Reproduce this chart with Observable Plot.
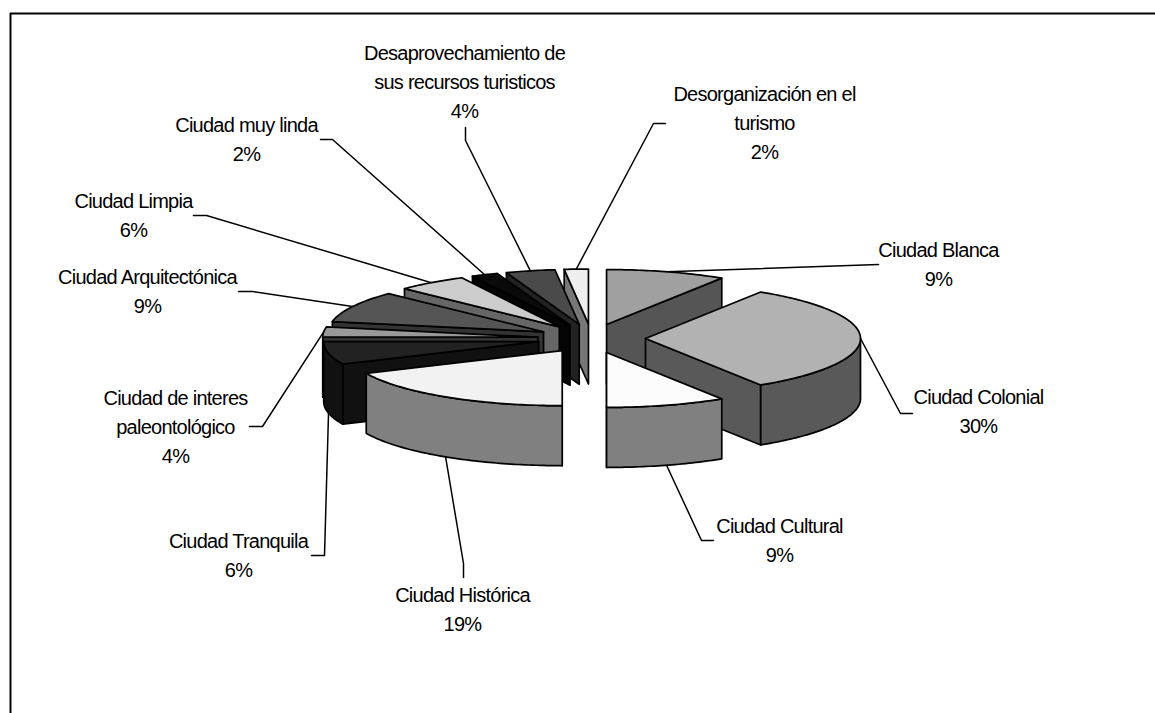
<!DOCTYPE html>
<html>
<head>
<meta charset="utf-8">
<script src="https://cdn.jsdelivr.net/npm/d3@7"></script>
<script src="https://cdn.jsdelivr.net/npm/@observablehq/plot@0.6"></script>
<style>html,body{margin:0;padding:0;background:#fff}svg{display:block}</style>
</head>
<body>
<div id="chart"></div>
<script>
// Categories, clockwise from 12 o'clock
const categories = ["Ciudad Blanca","Ciudad Colonial","Ciudad Cultural","Ciudad Histórica","Ciudad Tranquila","Ciudad de interes\npaleontológico","Ciudad Arquitectónica","Ciudad Limpia","Ciudad muy linda","Desaprovechamiento de\nsus recursos turisticos","Desorganización en el\nturismo"];
// Printed percentages
const printedPercent = [9,30,9,19,6,4,9,6,2,4,2];
// Angular share of each slice as drawn in the picture (percent of the full turn)
const drawnShare = [9,32,9,18.25,6.75,3,9.2,5.3,2,3.7,1.8];
const topShade = ["#a0a0a0","#b2b2b2","#fcfcfc","#f2f2f2","#222222","#999999","#555555","#cccccc","#0a0a0a","#4a4a4a","#eeeeee"];
const sideShade = ["#555555","#595959","#808080","#808080","#111111","#333333","#333333","#666666","#050505","#222222","#777777"];
// Label centres and leader knees
const labelX = [938,978,779,462,238,175,147,133,246,464,764];
const labelY = [262,409,538,607,553,424,289,213,137,79,120];
const kneeX = [878,900,701,463,324,262,252,206,332,465,653];
const kneeY = [264,413,540,563,555,426,291,215,139,140,123];
const tipX = [878,912,713,463,311,249,238,193,320,465,665];
const tipY = [264,413,540,577,555,426,291,215,139,127,123];

// Pie geometry
const cx = 591, cy = 338, rx = 215, ry = 55, depth = 60, explode = 54, explodeY = 14.5;
const rad = d => d * Math.PI / 180;
const total = d3.sum(drawnShare);
const cum = d3.cumsum(drawnShare);
const slices = categories.map((name, i) => {
  const a0 = (i ? cum[i - 1] : 0) / total * 360, a1 = cum[i] / total * 360, mid = (a0 + a1) / 2;
  return {name, i, a0, a1, mid, ax: cx + explode * Math.sin(rad(mid)), ay: cy - explodeY * Math.cos(rad(mid))};
});
const pt = (s, a, z = 0) => [s.ax + rx * Math.sin(rad(a)), s.ay - ry * Math.cos(rad(a)) + z * depth];
const arc = (s, a, b, z = 0) => {
  const n = Math.max(2, Math.ceil(Math.abs(b - a)));
  return d3.range(n + 1).map(k => pt(s, a + (b - a) * k / n, z));
};
const apex = (s, z = 0) => [s.ax, s.ay + z * depth];

// Painter's order: back to front on each side
const paint = [0, 1, 2, 10, 9, 8, 7, 6, 5, 4, 3];
const rows = [];
let faceId = 0;
const addFace = (pts, shade) => {
  const id = faceId++;
  [...pts, pts[0]].forEach(([x, y]) => rows.push({x, y, id, shade}));
};
for (const i of paint) {
  const s = slices[i];
  const cut = s.mid < 180 ? s.a1 : s.a0;
  addFace([apex(s), pt(s, cut), pt(s, cut, 1), apex(s, 1)], sideShade[i]);
  const w0 = Math.max(s.a0, 90), w1 = Math.min(s.a1, 270);
  if (w1 > w0) addFace([...arc(s, w0, w1), ...arc(s, w1, w0, 1)], sideShade[i]);
  addFace([apex(s), ...arc(s, s.a0, s.a1)], topShade[i]);
}

// Leaders start on the rim at each slice's middle angle
const leaders = [];
slices.forEach((s, i) => {
  const front = s.mid > 90 && s.mid < 270;
  [pt(s, s.mid, front ? 1 : 0), [kneeX[i], kneeY[i]], [tipX[i], tipY[i]]]
    .forEach(([x, y]) => leaders.push({x, y, i}));
});

const labels = slices.map((s, i) => ({x: labelX[i], y: labelY[i], text: `${s.name}\n${printedPercent[i]}%`}));
const frame = [{x: 10, y: 713}, {x: 10, y: 13}, {x: 1155, y: 13}];

const chart = Plot.plot({
  width: 1155, height: 713, margin: 0,
  style: {letterSpacing: "-0.75px"},
  x: {domain: [0, 1155], range: [0, 1155], axis: null},
  y: {domain: [0, 713], range: [0, 713], axis: null},
  color: {type: "identity"},
  marks: [
    Plot.line(frame, {x: "x", y: "y", stroke: "#000", strokeWidth: 2, curve: "linear"}),
    Plot.line(leaders, {x: "x", y: "y", z: "i", stroke: "#000", strokeWidth: 1.5}),
    Plot.line(rows, {x: "x", y: "y", z: "id", fill: "shade", stroke: "#000", strokeWidth: 1.7, strokeLinejoin: "round"}),
    Plot.text(labels, {x: "x", y: "y", text: "text", fontFamily: "Liberation Sans", fontSize: 20, lineHeight: 1.44, lineAnchor: "middle", textAnchor: "middle", fill: "#000"})
  ]
});
document.getElementById("chart").append(chart);
</script>
</body>
</html>
